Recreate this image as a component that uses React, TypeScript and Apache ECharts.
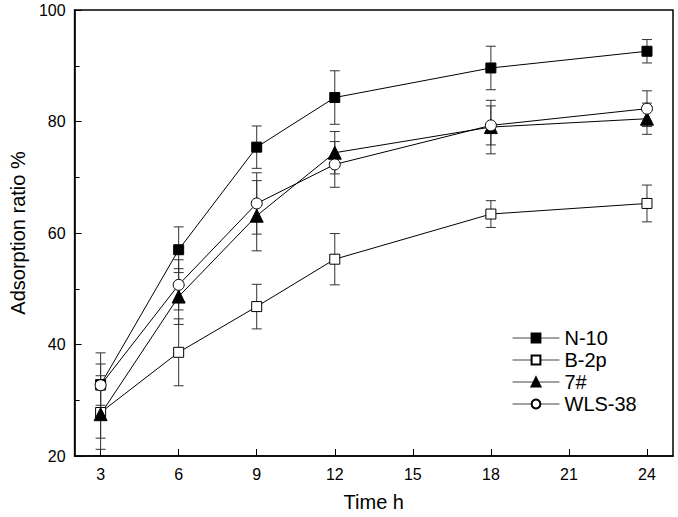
import React, { useEffect, useRef } from "react";
import * as echarts from "echarts";

const times = [3, 6, 9, 12, 18, 24];
const xTicks = [3, 6, 9, 12, 15, 18, 21, 24];

const n10 = [32.8, 57.0, 75.4, 84.3, 89.6, 92.6];
const n10Err = [3.7, 4.1, 3.8, 4.8, 3.9, 2.1];
const b2p = [27.8, 38.6, 46.8, 55.3, 63.4, 65.3];
const b2pErr = [6.6, 6.0, 4.0, 4.6, 2.4, 3.3];
const s7 = [27.5, 48.6, 63.1, 74.4, 79.0, 80.5];
const s7Err = [4.3, 5.0, 6.3, 3.8, 4.8, 2.8];
const wls = [32.7, 50.7, 65.3, 72.3, 79.3, 82.3];
const wlsErr = [5.8, 4.5, 5.5, 4.1, 3.5, 3.2];

const seriesNames = ["N-10", "B-2p", "7#", "WLS-38"];

const FONT = "Liberation Sans, Arial, sans-serif";

function pairs(vals: number[]) {
  return times.map((t, i) => [t, vals[i]]);
}
function errTriples(vals: number[], errs: number[]) {
  return times.map((t, i) => [t, vals[i], errs[i]]);
}

const errRender = (params: any, api: any) => {
  const x = api.value(0);
  const y = api.value(1);
  const e = api.value(2);
  const top = api.coord([x, y + e]);
  const bot = api.coord([x, y - e]);
  const hw = 5;
  const style = { stroke: "#333", lineWidth: 1 };
  return {
    type: "group",
    children: [
      { type: "line", shape: { x1: top[0], y1: top[1], x2: bot[0], y2: bot[1] }, style },
      { type: "line", shape: { x1: top[0] - hw, y1: top[1], x2: top[0] + hw, y2: top[1] }, style },
      { type: "line", shape: { x1: bot[0] - hw, y1: bot[1], x2: bot[0] + hw, y2: bot[1] }, style },
    ],
  };
};

export default function App() {
  const ref = useRef<HTMLDivElement>(null);
  useEffect(() => {
    if (!ref.current) return;
    const chart = echarts.init(ref.current, null, { renderer: "svg" });
    const lineBase = (name: string, vals: number[], symbol: string, size: number, filled: boolean) => ({
      name,
      type: "line",
      data: pairs(vals),
      symbol,
      symbolSize: size,
      showAllSymbol: true,
      z: 5,
      lineStyle: { color: "#000", width: 1 },
      itemStyle: {
        color: filled ? "#000" : "#fff",
        borderColor: "#000",
        borderWidth: 1,
      },
      emphasis: { disabled: true },
    });
    const errSeries = (vals: number[], errs: number[]) => ({
      type: "custom",
      renderItem: errRender,
      data: errTriples(vals, errs),
      z: 2,
      silent: true,
      encode: { x: 0, y: 1 },
    });
    chart.setOption({
      animation: false,
      textStyle: { fontFamily: FONT },
      grid: {
        left: 72,
        right: 5,
        top: 10,
        bottom: 60,
        show: true,
        borderColor: "#000",
        borderWidth: 1.5,
        backgroundColor: "transparent",
      },
      legend: {
        data: seriesNames,
        orient: "vertical",
        left: 512,
        top: 328,
        padding: 0,
        itemWidth: 47,
        itemHeight: 11,
        itemGap: 2,
        lineStyle: { width: 1, color: "#444" },
        textStyle: { fontSize: 20, color: "#000", fontFamily: FONT, lineHeight: 20 },
      },
      xAxis: {
        type: "value",
        min: 2,
        max: 25,
        name: "Time h",
        nameLocation: "middle",
        nameGap: 36,
        nameTextStyle: { fontSize: 20, color: "#000", fontFamily: FONT },
        axisLine: { show: true, lineStyle: { color: "#000", width: 1.5 } },
        axisTick: { show: true, inside: true, length: 7, customValues: xTicks, lineStyle: { color: "#000", width: 1 } },
        axisLabel: { customValues: xTicks, fontSize: 16, color: "#000", margin: 10, fontFamily: FONT },
        splitLine: { show: false },
      },
      yAxis: {
        type: "value",
        min: 20,
        max: 100,
        interval: 20,
        name: "Adsorption ratio %",
        nameLocation: "middle",
        nameGap: 46,
        nameTextStyle: { fontSize: 20, color: "#000", fontFamily: FONT },
        axisLine: { show: true, lineStyle: { color: "#000", width: 1.5 } },
        axisTick: { show: true, inside: true, length: 7, lineStyle: { color: "#000", width: 1 } },
        minorTick: { show: true, splitNumber: 2, length: 5, lineStyle: { color: "#000", width: 1 } },
        axisLabel: { fontSize: 16, color: "#000", margin: 9, fontFamily: FONT },
        splitLine: { show: false },
        minorSplitLine: { show: false },
      },
      series: [
        errSeries(n10, n10Err),
        errSeries(b2p, b2pErr),
        errSeries(s7, s7Err),
        errSeries(wls, wlsErr),
        lineBase("N-10", n10, "rect", 10, true),
        lineBase("B-2p", b2p, "rect", 10, false),
        lineBase("7#", s7, "triangle", 13, true),
        lineBase("WLS-38", wls, "circle", 11, false),
      ],
    });
    return () => chart.dispose();
  }, []);
  return (
    <div
      ref={ref}
      style={{ position: "absolute", left: 0, top: 0, width: 678, height: 517, background: "#fff" }}
    />
  );
}
